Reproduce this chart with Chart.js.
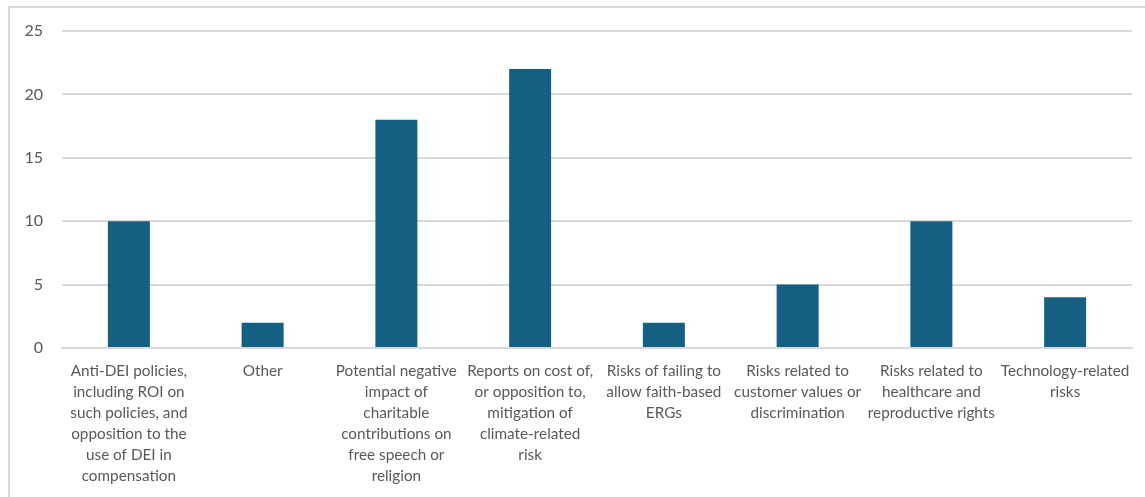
<!DOCTYPE html>
<html>
<head>
<meta charset="utf-8">
<script src="https://cdn.jsdelivr.net/npm/chart.js@4/dist/chart.umd.min.js"></script>
<style>
  body { margin: 0; background: #fff; }
  #frame { position: absolute; left: 8px; top: 6px; width: 1200px; height: 600px; border: 2px solid #d9d9d9; box-sizing: border-box; }
  #wrap { position: absolute; left: 0; top: 0; width: 1145px; height: 497px; }
</style>
</head>
<body>
<div id="frame"></div>
<div id="wrap"><canvas id="myChart"></canvas></div>
<script>
// categories, wrapped the way the chart wraps them
const categories = [
  ["Anti-DEI policies,", "including ROI on", "such policies, and", "opposition to the", "use of DEI in", "compensation"],
  ["Other"],
  ["Potential negative", "impact of", "charitable", "contributions on", "free speech or", "religion"],
  ["Reports on cost of,", "or opposition to,", "mitigation of", "climate-related", "risk"],
  ["Risks of failing to", "allow faith-based", "ERGs"],
  ["Risks related to", "customer values or", "discrimination"],
  ["Risks related to", "healthcare and", "reproductive rights"],
  ["Technology-related", "risks"],
];
const counts = [10, 2, 18, 22, 2, 5, 10, 4];
const yTicks = [0, 5, 10, 15, 20, 25];

const textColor = "#595959";
const gridColor = "#d9d9d9";

const config = {
  type: "bar",
  data: {
    labels: categories,
    datasets: [
      {
        label: "Count",
        data: counts,
        backgroundColor: "#156082",
        categoryPercentage: 0.314,
        barPercentage: 1.0,
      },
    ],
  },
  options: {
    responsive: true,
    maintainAspectRatio: false,
    animation: false,
    layout: { padding: { top: 31, left: 0, right: 13 } },
    plugins: {
      legend: { display: false },
      tooltip: { enabled: false },
    },
    scales: {
      y: {
        min: 0,
        max: 25,
        afterBuildTicks: (axis) => {
          axis.ticks = yTicks.map((v) => ({ value: v }));
        },
        afterFit: (axis) => {
          axis.width = 62;
        },
        grid: { color: gridColor, lineWidth: 2, drawTicks: false },
        border: { display: false },
        ticks: {
          color: textColor,
          padding: 19,
          font: { family: "Lato", size: 16 },
        },
      },
      x: {
        afterFit: (axis) => {
          axis.height = 149;
        },
        grid: { display: false },
        border: { color: gridColor, width: 2 },
        ticks: {
          color: textColor,
          maxRotation: 0,
          autoSkip: false,
          padding: 5,
          font: { family: "Lato", size: 15.3, lineHeight: 1.37 },
        },
      },
    },
  },
};

const myChart = new Chart(document.getElementById("myChart"), config);
</script>
</body>
</html>
